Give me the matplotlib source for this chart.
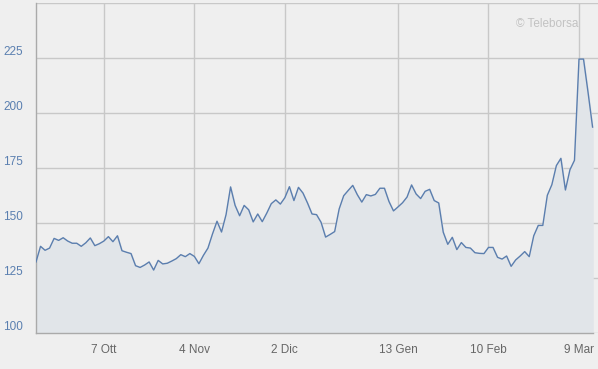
import numpy as np
import matplotlib.pyplot as plt

# prezzi di chiusura (una seduta per punto)
prices = [132.3, 139.4, 137.6, 138.6, 143.0, 142.1, 143.3, 141.8, 140.8, 140.8,
          139.4, 141.0, 143.2, 139.7, 140.6, 141.8, 143.8, 141.5, 144.2, 137.4,
          136.7, 136.1, 130.6, 129.8, 130.9, 132.3, 128.6, 133.0, 131.4, 131.7,
          132.7, 133.8, 135.6, 134.7, 136.1, 134.8, 131.5, 135.3, 138.6, 145.0,
          150.8, 145.9, 153.8, 166.4, 158.0, 153.3, 158.0, 156.0, 150.5, 154.1,
          150.6, 154.5, 158.8, 160.5, 158.6, 161.5, 166.5, 160.2, 166.2, 163.6,
          159.1, 154.1, 153.8, 150.3, 143.6, 144.8, 146.1, 156.4, 162.4, 164.8,
          167.1, 162.9, 159.5, 162.9, 162.3, 163.0, 165.8, 165.8, 159.8, 155.5,
          157.3, 159.2, 161.8, 167.3, 163.2, 161.1, 164.4, 165.3, 160.2, 159.1,
          145.8, 140.3, 143.5, 137.9, 141.1, 138.9, 138.6, 136.5, 136.2, 136.1,
          138.9, 138.9, 134.4, 133.6, 135.0, 130.3, 133.2, 135.0, 137.0, 134.7,
          144.2, 148.9, 148.9, 162.6, 167.4, 176.1, 179.4, 165.0, 174.2, 178.5,
          224.5, 224.5, 209.4, 193.6]

tick_idx = [15, 35, 55, 80, 100, 120]
tick_labels = ["7 Ott", "4 Nov", "2 Dic", "13 Gen", "10 Feb", "9 Mar"]
y_ticks = [100, 125, 150, 175, 200, 225, 250]

bg = "#efefef"
x = np.arange(len(prices))

fig = plt.figure(figsize=(5.98, 3.69), dpi=100, facecolor=bg)
ax = fig.add_axes([36/598, 36/369, 562/598, 330/369], facecolor=bg)

ax.fill_between(x, prices, 100, color="#e1e5e9", zorder=1)
ax.plot(x, prices, color="#5b7eae", lw=1.0, zorder=3)

ax.set_xlim(0, 124.2)
ax.set_ylim(100, 250)
ax.set_xticks(tick_idx)
ax.set_xticklabels(tick_labels)
ax.set_yticks(y_ticks)
ax.set_yticklabels([])
ax.grid(True, color="#c8c8c8", lw=1.0, zorder=0)
ax.set_axisbelow(True)

for s in ["top", "right"]:
    ax.spines[s].set_visible(False)
for s in ["left", "bottom"]:
    ax.spines[s].set_color("#aaaaaa")
    ax.spines[s].set_linewidth(1.0)
ax.spines["bottom"].set_bounds(0, len(prices) - 1)

ax.tick_params(length=0, pad=8, labelsize=8.5, labelcolor="#666666")
for lab in ax.get_xticklabels():
    lab.set_family("Liberation Sans")

# etichette asse y sopra le griglie, allineate a sinistra
for v in y_ticks[:-1]:
    ax.annotate(str(v), xy=(0, v), xycoords=("figure pixels", "data"),
                xytext=(3, 6), textcoords="offset pixels",
                ha="left", va="center", fontsize=8.5, color="#5a7fb0",
                family="Liberation Sans", annotation_clip=False)

fig.text(578/598, 1 - 24/369, "© Teleborsa", ha="right", va="center",
         fontsize=8.5, color="#c2c2c2", family="Liberation Sans")

fig.savefig("out.png", dpi=100, facecolor=bg)
